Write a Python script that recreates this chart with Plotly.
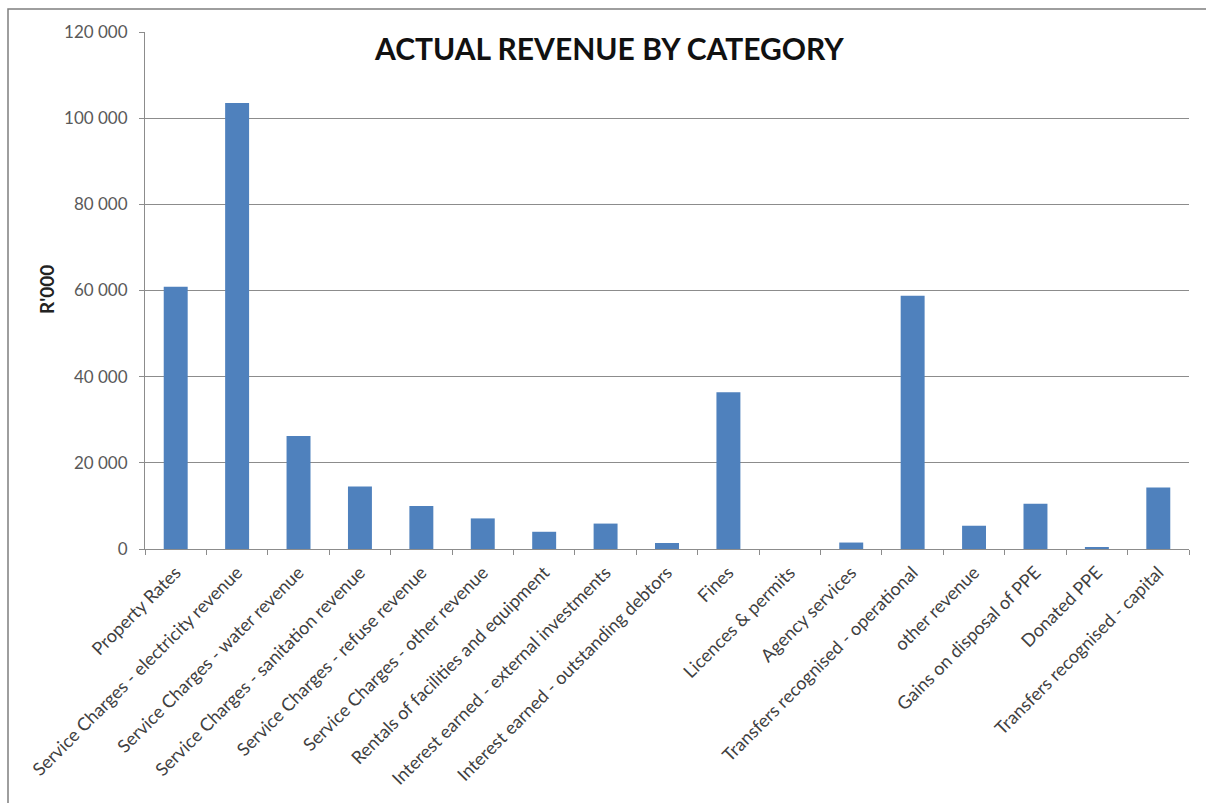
import plotly.graph_objects as go

categories = [
    "Property Rates",
    "Service Charges - electricity revenue",
    "Service Charges - water revenue",
    "Service Charges - sanitation revenue",
    "Service Charges - refuse revenue",
    "Service Charges - other revenue",
    "Rentals of facilities and equipment",
    "Interest earned - external investments",
    "Interest earned - outstanding debtors",
    "Fines",
    "Licences & permits",
    "Agency services",
    "Transfers recognised - operational",
    "other revenue",
    "Gains on disposal of PPE",
    "Donated PPE",
    "Transfers recognised - capital",
]

revenue = [
    60850, 103500, 26200, 14500, 10000, 7100, 4000, 5900, 1400,
    36400, 0, 1500, 58800, 5400, 10500, 300, 14300,
]

title_text = "ACTUAL REVENUE BY CATEGORY"
y_title = "R'000"
y_ticks = [0, 20000, 40000, 60000, 80000, 100000, 120000]

BAR_BLUE = "#4F81BD"
GRID = "#8c8c8c"
FONT = "Lato, 'Open Sans', Arial, sans-serif"

fig = go.Figure(
    go.Bar(
        x=categories,
        y=revenue,
        marker=dict(color=BAR_BLUE, line=dict(width=0)),
    )
)

W, H = 1206, 803
L, R, T, B = 145, 17, 32, 254
pw, ph = W - L - R, H - T - B

fig.update_layout(
    width=W,
    height=H,
    margin=dict(l=L, r=R, t=T, b=B),
    paper_bgcolor="white",
    plot_bgcolor="white",
    bargap=0.61,
    separators=". ",
    showlegend=False,
    font=dict(family=FONT, color="#404040"),
)

fig.update_xaxes(
    type="category",
    tickangle=-45,
    tickfont=dict(size=18, color="#404040", family=FONT),
    ticklabelstandoff=5,
    showline=True,
    linecolor=GRID,
    linewidth=1,
    ticks="outside",
    tickson="boundaries",
    ticklen=5,
    tickcolor=GRID,
    showgrid=False,
)

fig.update_yaxes(
    range=[0, 120000],
    tickvals=y_ticks,
    tickformat=",d",
    tickfont=dict(size=17, color="#595959", family=FONT),
    ticklabelstandoff=8,
    showline=True,
    linecolor=GRID,
    linewidth=1,
    ticks="outside",
    ticklen=5,
    tickcolor=GRID,
    showgrid=True,
    gridcolor=GRID,
    gridwidth=1,
    zeroline=False,
)

# chart title sits inside the plot area
fig.add_annotation(
    text=f"<b>{title_text}</b>",
    xref="paper", yref="paper",
    x=(609 - L) / pw, y=(H - B - 48) / ph,
    xanchor="center", yanchor="middle",
    showarrow=False,
    font=dict(size=30, color="#111111", family=FONT),
)

# vertical axis title
fig.add_annotation(
    text=f"<b>{y_title}</b>",
    xref="paper", yref="paper",
    x=(46 - L) / pw, y=(H - B - 290) / ph,
    xanchor="center", yanchor="middle",
    textangle=-90,
    showarrow=False,
    font=dict(size=19, color="#222222", family=FONT),
)

# outer chart frame
fig.add_shape(
    type="rect",
    xref="paper", yref="paper",
    x0=(8 - L) / pw, x1=(W + 60 - L) / pw,
    y0=(H - B - (H + 20)) / ph, y1=(H - B - 9) / ph,
    line=dict(color="#7f7f7f", width=1.5),
    fillcolor="rgba(0,0,0,0)",
    layer="below",
)

fig.write_html("out.html")
